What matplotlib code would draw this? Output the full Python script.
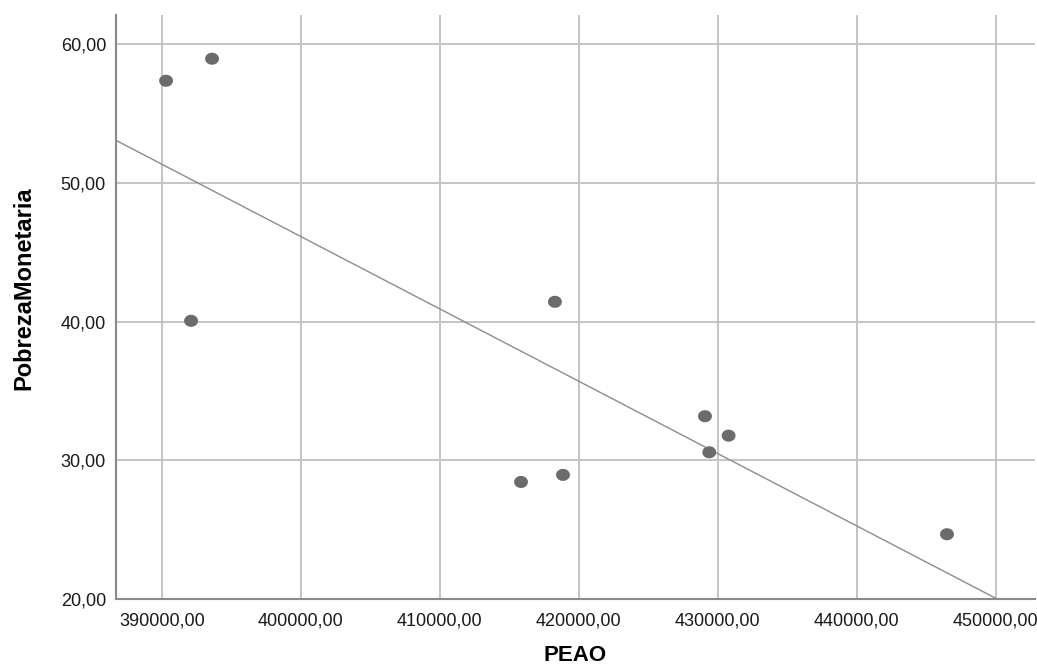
import numpy as np
import matplotlib
matplotlib.use('Agg')
import matplotlib.pyplot as plt
from matplotlib.ticker import FuncFormatter

plt.rcParams['font.family'] = ['Liberation Sans', 'DejaVu Sans']

# PEAO vs PobrezaMonetaria
peao = [390290, 393600, 392090, 418280, 415840, 418860, 429080, 429390, 430780, 446500]
pobreza = [57.37, 58.96, 40.06, 41.43, 28.44, 28.95, 33.18, 30.58, 31.78, 24.67]

x_ticks = [390000, 400000, 410000, 420000, 430000, 440000, 450000]
y_ticks = [20, 30, 40, 50, 60]

grey_pt = '#6b6b6b'
grid_c = '#c4c4c4'
axis_c = '#8a8a8a'

fig = plt.figure(figsize=(10.37, 6.71), dpi=100)
ax = fig.add_axes([0.1116, 0.1073, 0.8864, 0.8703])

# linear fit line
slope, inter = np.polyfit(peao, pobreza, 1)
xl = np.array([386668, 452830])
ax.plot(xl, slope * xl + inter, color='#8c8c8c', lw=1.0, zorder=2)

# slightly wide oval marker, like SPSS
t = np.linspace(0, 2 * np.pi, 40)
oval = np.column_stack([np.cos(t) * 1.15, np.sin(t)])
ax.scatter(peao, pobreza, s=100, marker=oval, color=grey_pt, edgecolors='none', zorder=3)

ax.set_xlim(386668, 452830)
ax.set_ylim(20, 62.11)
ax.set_xticks(x_ticks)
ax.set_yticks(y_ticks)

fmt = FuncFormatter(lambda v, p: f"{v:.2f}".replace('.', ','))
ax.xaxis.set_major_formatter(fmt)
ax.yaxis.set_major_formatter(fmt)

ax.grid(True, color=grid_c, lw=1.4, zorder=0)
ax.set_axisbelow(True)
for s in ['top', 'right']:
    ax.spines[s].set_visible(False)
for s in ['left', 'bottom']:
    ax.spines[s].set_color(axis_c)
    ax.spines[s].set_linewidth(1.5)

ax.tick_params(axis='both', length=0, labelsize=13, colors='#1a1a1a')
ax.tick_params(axis='x', pad=10)
ax.tick_params(axis='y', pad=7)

ax.set_xlabel('PEAO', fontsize=16, fontweight='bold', labelpad=11)
ax.set_ylabel('PobrezaMonetaria', fontsize=17, fontweight='bold')
ax.yaxis.set_label_coords(-0.087, 0.5325)

fig.savefig('out.png', dpi=100)
